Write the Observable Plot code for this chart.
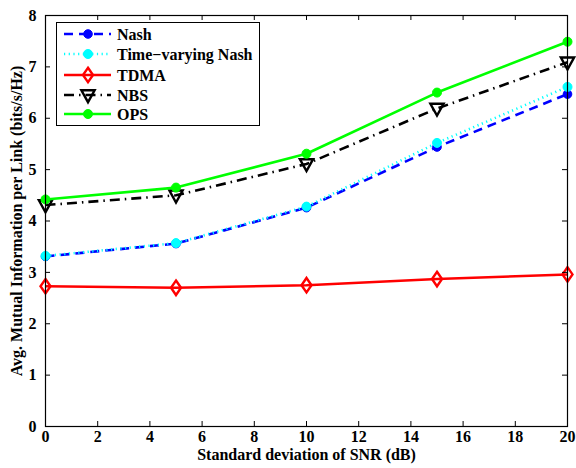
<!DOCTYPE html>
<html><head><meta charset="utf-8">
<script src="https://cdn.jsdelivr.net/npm/d3@7"></script>
<script src="https://cdn.jsdelivr.net/npm/@observablehq/plot@0.6"></script>
<style>body{margin:0;background:#fff}</style>
</head><body><div id="chart"></div><script>
// ---- data ----
const snrStd = [0, 5, 10, 15, 20];
const nash   = [3.31, 3.56, 4.26, 5.44, 6.47];
const tvNash = [3.32, 3.57, 4.28, 5.52, 6.61];
const tdma   = [2.73, 2.70, 2.75, 2.87, 2.96];
const nbs    = [4.31, 4.50, 5.11, 6.19, 7.09];
const ops    = [4.42, 4.65, 5.31, 6.50, 7.49];
const seriesNames = ["Nash", "Time\u2212varying Nash", "TDMA", "NBS", "OPS"];
const xTicks = [0, 2, 4, 6, 8, 10, 12, 14, 16, 18, 20];
const yTicks = [0, 1, 2, 3, 4, 5, 6, 7, 8];
const xLabel = "Standard deviation of SNR (dB)";
const yLabel = "Avg. Mutual Information per Link (bits/s/Hz)";

// ---- styles ----
const FONT = "'Liberation Serif', 'Times New Roman', serif";
const triDown = {draw(ctx, size) {
  const r = Math.sqrt(size / Math.PI);
  ctx.moveTo(-1.25 * r, -0.9 * r); ctx.lineTo(1.25 * r, -0.9 * r); ctx.lineTo(0, 1.35 * r); ctx.closePath();
}};
const diamondTall = {draw(ctx, size) {
  const r = Math.sqrt(size / Math.PI);
  ctx.moveTo(0, -1.45 * r); ctx.lineTo(r, 0); ctx.lineTo(0, 1.45 * r); ctx.lineTo(-r, 0); ctx.closePath();
}};
const styles = [
  {color: "#0000ff", dash: "9,6", symbol: "circle", filled: true, r: 4.3},
  {color: "#00ffff", dash: "1.2,3.5", symbol: "circle", filled: true, r: 4.5},
  {color: "#ff0000", dash: null, symbol: diamondTall, filled: false, r: 5},
  {color: "#000000", dash: "10,5,1.5,5", symbol: triDown, filled: false, r: 5.3},
  {color: "#00ff00", dash: null, symbol: "circle", filled: true, r: 4.5}
];
const allSeries = [nash, tvNash, tdma, nbs, ops];
const rows = allSeries.map((vals, i) => vals.map((v, j) => ({series: seriesNames[i], x: snrStd[j], y: v})));

const W = 576, H = 468, mL = 45, mR = 9, mT = 15, mB = 42;
const innerW = W - mL - mR, innerH = H - mT - mB;

const marks = [];
rows.forEach((data, i) => {
  const s = styles[i];
  marks.push(Plot.line(data, {x: "x", y: "y", stroke: s.color, strokeWidth: 2.6, strokeDasharray: s.dash, strokeLinecap: "butt"}));
  marks.push(Plot.dot(data, {x: "x", y: "y", symbol: s.symbol, r: s.r,
    fill: s.filled ? s.color : "none", stroke: s.color, strokeWidth: s.filled ? 1 : 2.4}));
});

const chart = Plot.plot({
  width: W, height: H,
  marginLeft: mL, marginRight: mR, marginTop: mT, marginBottom: mB,
  style: {fontFamily: FONT, fontSize: "16px", fontWeight: "bold", background: "#fff", color: "#000"},
  x: {domain: [0, 20], ticks: xTicks},
  y: {domain: [0, 8], ticks: yTicks},
  marks: [
    ...marks,
    Plot.frame({stroke: "#000", strokeWidth: 1.2}),
    Plot.tickX(xTicks, {x: d => d, insetTop: innerH - 5, stroke: "#000"}),
    Plot.tickX(xTicks, {x: d => d, insetBottom: innerH - 5, stroke: "#000"}),
    Plot.tickY(yTicks, {y: d => d, insetRight: innerW - 5, stroke: "#000"}),
    Plot.tickY(yTicks, {y: d => d, insetLeft: innerW - 5, stroke: "#000"}),
    Plot.axisX({ticks: xTicks, tickSize: 0, tickPadding: 4, label: null, fontSize: 16}),
    Plot.axisY({ticks: yTicks, tickSize: 0, tickPadding: 9, label: null, fontSize: 16}),
    Plot.text([xLabel], {frameAnchor: "bottom", dy: 33, fontSize: 16, fontWeight: "bold"}),
    Plot.text([yLabel], {frameAnchor: "left", textAnchor: "middle", dx: -29, rotate: -90, fontSize: 16, fontWeight: "bold"})
  ]
});
document.getElementById("chart").appendChild(chart);

// ---- legend ----
const svg = d3.select(chart);
const lg = svg.append("g").attr("font-family", FONT).attr("font-weight", "bold").attr("font-size", 16).attr("text-anchor", "start");
lg.append("rect").attr("x", 56.5).attr("y", 22.5).attr("width", 203).attr("height", 103).attr("fill", "#fff").attr("stroke", "#000").attr("stroke-width", 1);
const rowY = [34, 54, 75, 95, 114];
seriesNames.forEach((name, i) => {
  const s = styles[i], y = rowY[i];
  lg.append("line").attr("x1", 64).attr("x2", 111).attr("y1", y).attr("y2", y)
    .attr("stroke", s.color).attr("stroke-width", 2.6).attr("stroke-dasharray", s.dash);
  const sym = typeof s.symbol === "string" ? d3.symbolCircle : s.symbol;
  lg.append("path").attr("transform", `translate(88,${y})`).attr("d", d3.symbol(sym, Math.PI * s.r * s.r)())
    .attr("fill", s.filled ? s.color : "none").attr("stroke", s.color).attr("stroke-width", s.filled ? 1 : 2.4);
  lg.append("text").attr("x", 117).attr("y", y).attr("dy", "0.35em").text(name);
});
</script></body></html>
